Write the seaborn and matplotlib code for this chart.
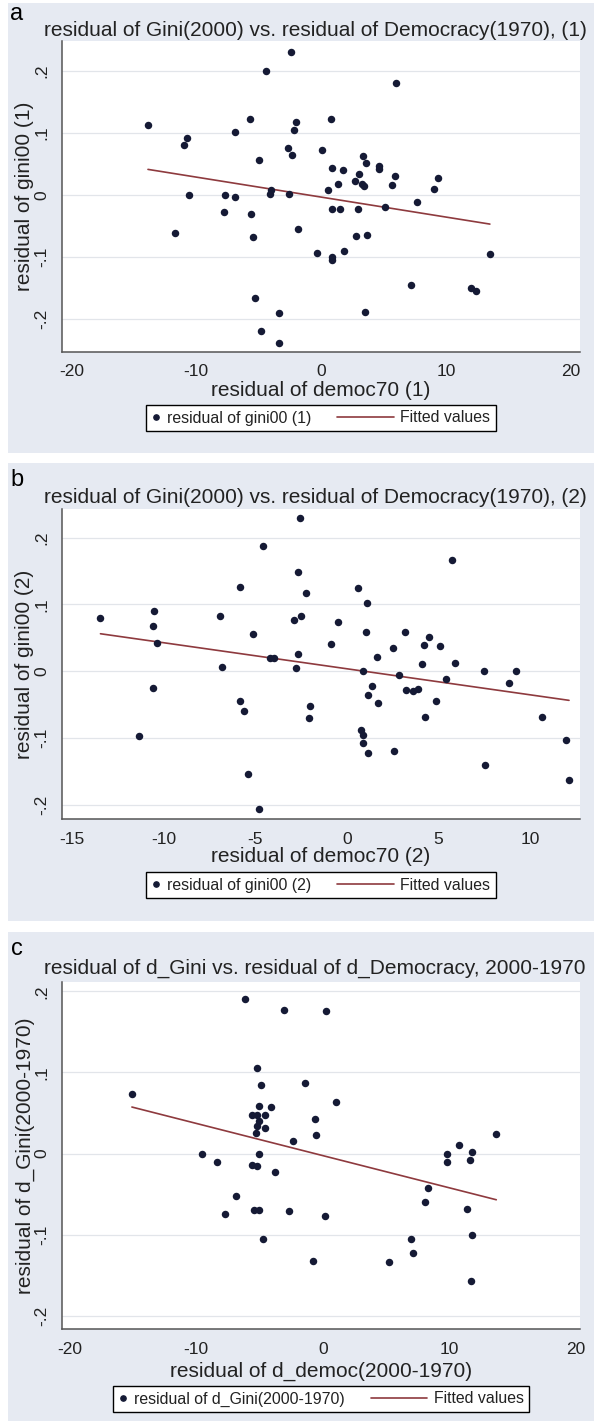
"""Added-variable plots: residual of Gini vs. residual of democracy (three panels)."""

import matplotlib

matplotlib.use("Agg")
import matplotlib.pyplot as plt
import seaborn as sns
from matplotlib.legend_handler import HandlerLine2D
from matplotlib.lines import Line2D
from matplotlib.patches import Rectangle


# ---- data ----
a_x = [-2.43, -4.41, 6.02, -13.86, -5.71, 0.82, -2.04, -2.19, -10.73, -10.97, -6.93, -2.61,
       -2.34, 0.12, -4.95, 3.40, 3.62, 4.68, 4.68, 0.88, 1.76, 3.07, 2.70, 3.25, 3.43, 1.34,
       0.55, 5.90, 5.71, 9.39, 9.06, 7.69, -10.58, -7.69, -6.87, -4.00, -4.05, -2.58, -7.75,
       -5.59, -11.67, -5.41, -1.85, -0.36, 0.88, 0.88, 1.88, 0.85, 1.49, 2.98, 2.80, 3.65,
       5.14, 13.53, 7.23, 12.04, 12.40, -5.32, -3.34, 3.53, -4.83, -3.40]
a_y = [0.230, 0.200, 0.181, 0.112, 0.122, 0.122, 0.117, 0.105, 0.092, 0.080, 0.101, 0.075,
       0.064, 0.073, 0.056, 0.062, 0.051, 0.047, 0.041, 0.043, 0.040, 0.034, 0.022, 0.018,
       0.014, 0.017, 0.008, 0.031, 0.016, 0.028, 0.009, -0.011, 0.000, 0.000, -0.003, 0.008,
       0.001, 0.001, -0.028, -0.031, -0.061, -0.067, -0.055, -0.093, -0.100, -0.105, -0.091,
       -0.022, -0.023, -0.022, -0.066, -0.065, -0.019, -0.095, -0.145, -0.150, -0.155,
       -0.166, -0.190, -0.189, -0.219, -0.239]

b_x = [-2.58, -4.55, 5.74, -2.67, -5.85, 0.62, -2.23, 1.10, -10.52, -6.94, -2.87, -2.48,
       -13.45, -10.60, -0.48, -5.12, 1.03, 3.20, 4.50, 4.21, 5.08, -10.39, -0.85, 2.54,
       -4.17, -4.00, -2.64, 1.67, 4.09, 5.93, -6.82, -2.77, 0.89, 2.83, 5.43, 7.50, 9.24,
       8.86, -10.56, 1.36, 1.14, 3.24, 3.62, 3.88, 1.69, 4.88, -5.83, -5.60, -2.00, -2.09,
       4.26, 10.64, -11.32, 0.79, 0.91, 0.87, 1.18, 2.58, 11.96, 7.56, -5.41, 12.13, -4.77]
b_y = [0.230, 0.187, 0.167, 0.148, 0.126, 0.124, 0.117, 0.102, 0.090, 0.082, 0.077, 0.083,
       0.079, 0.067, 0.073, 0.055, 0.058, 0.059, 0.051, 0.039, 0.037, 0.042, 0.040, 0.035,
       0.020, 0.019, 0.025, 0.021, 0.011, 0.012, 0.007, 0.005, 0.000, -0.005, -0.012, 0.000,
       0.000, -0.018, -0.025, -0.022, -0.036, -0.028, -0.029, -0.026, -0.047, -0.045,
       -0.045, -0.059, -0.052, -0.070, -0.069, -0.068, -0.097, -0.088, -0.095, -0.107,
       -0.122, -0.119, -0.103, -0.141, -0.154, -0.163, -0.206]

c_x = [-6.13, -3.09, 0.21, -5.17, -4.86, -1.41, -15.08, 1.05, -5.08, -4.11, -5.62, -5.17,
       -4.59, -5.05, -0.63, -5.20, -4.56, -5.26, -2.40, -0.51, 13.69, 10.75, 11.80, 9.76,
       9.79, 11.65, -9.55, -5.05, -8.35, -5.62, -5.17, -3.78, -6.88, 8.29, 8.05, -7.72,
       -5.41, -5.05, -2.67, 0.18, 11.38, -4.71, 11.80, 6.94, 7.12, -0.78, 5.23, 11.68]
c_y = [0.190, 0.177, 0.176, 0.105, 0.084, 0.087, 0.073, 0.064, 0.059, 0.057, 0.047, 0.048,
       0.048, 0.040, 0.042, 0.034, 0.031, 0.025, 0.016, 0.023, 0.024, 0.010, 0.002, 0.000,
       -0.011, -0.008, 0.000, 0.000, -0.011, -0.014, -0.016, -0.023, -0.052, -0.042,
       -0.060, -0.075, -0.070, -0.070, -0.071, -0.077, -0.069, -0.106, -0.100, -0.105,
       -0.123, -0.133, -0.134, -0.157]

y_ticks = [-0.2, -0.1, 0.0, 0.1, 0.2]
y_tick_labels = ["-.2", "-.1", "0", ".1", ".2"]
x_ticks_wide = [-20, -10, 0, 10, 20]
x_tick_labels_wide = ["-20", "-10", "0", "10", "20"]
x_ticks_b = [-15, -10, -5, 0, 5, 10]
x_tick_labels_b = ["-15", "-10", "-5", "0", "5", "10"]

titles = [
    "residual of Gini(2000) vs. residual of Democracy(1970), (1)",
    "residual of Gini(2000) vs. residual of Democracy(1970), (2)",
    "residual of d_Gini vs. residual of d_Democracy, 2000-1970",
]
x_labels = ["residual of democ70 (1)", "residual of democ70 (2)", "residual of d_democ(2000-1970)"]
y_labels = ["residual of gini00 (1)", "residual of gini00 (2)", "residual of d_Gini(2000-1970)"]
dot_labels = ["residual of gini00 (1)", "residual of gini00 (2)", "residual of d_Gini(2000-1970)"]
panel_letters = ["a", "b", "c"]
fit_label = "Fitted values"

# ---- layout (pixels of the 594x1421 output) ----
W, H = 594, 1421
BG = "#e6eaf2"
DOT = "#151a35"
FIT = "#8e3a3e"
TEXT = "#222222"
AXIS = "#555555"

panels = [
    dict(bg=(8, 3, 594, 453), ax=(62, 41, 580, 352), xlim=(-20.75, 20.75), ylim=(-0.253, 0.248),
         title_y=30, letter_y=14, xlabel_y=391, legend=(321, 418)),
    dict(bg=(8, 463, 594, 921), ax=(62, 509, 580, 819), xlim=(-15.55, 12.73), ylim=(-0.2215, 0.243),
         title_y=498, letter_y=480, xlabel_y=856, legend=(321, 885)),
    dict(bg=(8, 932, 594, 1421), ax=(62, 982, 580, 1329), xlim=(-20.6, 20.3), ylim=(-0.2164, 0.2115),
         title_y=968, letter_y=949, xlabel_y=1371, legend=(321, 1399)),
]


class LongLineHandler(HandlerLine2D):
    """Draws the legend line longer than the marker slot, reaching to the left."""

    def __init__(self, extra, **kwargs):
        super().__init__(**kwargs)
        self.extra = extra

    def create_artists(self, legend, orig_handle, xdescent, ydescent, width, height, fontsize, trans):
        return super().create_artists(legend, orig_handle, xdescent + self.extra, ydescent,
                                      width + self.extra, height, fontsize, trans)


def fig_rect(left, top, right, bottom):
    return [left / W, 1 - bottom / H, (right - left) / W, (bottom - top) / H]


def draw_panel(fig, spec, x, y, xticks, xticklabels, title, xlabel, ylabel, letter, dot_label):
    bl, bt, br, bb = spec["bg"]
    fig.add_artist(Rectangle((bl / W, 1 - bb / H), (br - bl) / W, (bb - bt) / H,
                             transform=fig.transFigure, facecolor=BG, edgecolor="none", zorder=-1))
    ax = fig.add_axes(fig_rect(*spec["ax"]))
    ax.set_facecolor("white")

    sns.regplot(x=x, y=y, ax=ax, ci=None, color=DOT,
                scatter_kws={"s": 29, "linewidths": 0, "alpha": 1, "zorder": 3},
                line_kws={"color": FIT, "lw": 1.2, "zorder": 2})

    ax.set_xlim(*spec["xlim"])
    ax.set_ylim(*spec["ylim"])
    ax.set_xticks(xticks)
    ax.set_xticklabels(xticklabels)
    ax.set_yticks(y_ticks)
    ax.set_yticklabels(y_tick_labels, rotation=90, va="center")
    ax.tick_params(axis="both", direction="out", length=5, width=1, color=AXIS,
                   labelsize=12.5, labelcolor=TEXT, pad=4)
    ax.yaxis.grid(True, color="#e2e5ea", lw=0.9)
    ax.xaxis.grid(False)
    ax.set_axisbelow(True)
    for side in ["top", "right"]:
        ax.spines[side].set_visible(False)
    for side in ["left", "bottom"]:
        ax.spines[side].set_color(AXIS)
        ax.spines[side].set_linewidth(1.1)

    left, top, right, bottom = spec["ax"]
    ax.set_xlabel(xlabel, fontsize=15, color=TEXT)
    ax.xaxis.label.set_va("center")
    ax.xaxis.set_label_coords(0.5, -(spec["xlabel_y"] - bottom) / (bottom - top))
    ax.set_ylabel(ylabel, fontsize=15, color=TEXT)
    ax.yaxis.label.set_va("center")
    ax.yaxis.set_label_coords(-(left - 25) / (right - left), 0.5)

    fig.text(315 / W, 1 - spec["title_y"] / H, title, ha="center", va="center",
             fontsize=15, color=TEXT)
    fig.text(17 / W, 1 - spec["letter_y"] / H, letter, ha="center", va="center",
             fontsize=17, color="black")

    dot_handle = Line2D([], [], ls="none", marker="o", markersize=3.8, color=DOT)
    fit_handle = Line2D([], [], color=FIT, lw=1.2)
    leg = ax.legend([dot_handle, fit_handle], [dot_label, fit_label], ncol=2,
                    loc="center", bbox_to_anchor=(spec["legend"][0] / W, 1 - spec["legend"][1] / H),
                    bbox_transform=fig.transFigure, fontsize=11.4, frameon=True, fancybox=False,
                    edgecolor="black", framealpha=1, handlelength=0.6, handletextpad=0.4,
                    columnspacing=4.6, borderpad=0.35, numpoints=1,
                    handler_map={fit_handle: LongLineHandler(extra=34)})
    leg.get_frame().set_linewidth(1.0)
    for t in leg.get_texts():
        t.set_color(TEXT)
    return ax


sns.set_theme(style="white")
plt.rcParams["font.family"] = ["Liberation Sans", "DejaVu Sans"]

fig = plt.figure(figsize=(W / 100, H / 100), dpi=100)
fig.patch.set_facecolor("white")

draw_panel(fig, panels[0], a_x, a_y, x_ticks_wide, x_tick_labels_wide, titles[0], x_labels[0],
           y_labels[0], panel_letters[0], dot_labels[0])
draw_panel(fig, panels[1], b_x, b_y, x_ticks_b, x_tick_labels_b, titles[1], x_labels[1],
           y_labels[1], panel_letters[1], dot_labels[1])
draw_panel(fig, panels[2], c_x, c_y, x_ticks_wide, x_tick_labels_wide, titles[2], x_labels[2],
           y_labels[2], panel_letters[2], dot_labels[2])

fig.savefig("out.png", dpi=100)
